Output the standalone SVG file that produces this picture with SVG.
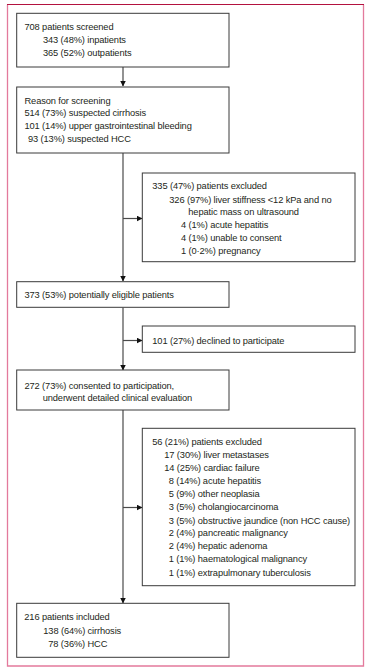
<svg xmlns="http://www.w3.org/2000/svg" width="369" height="672" viewBox="0 0 369 672">
<defs>
<style>
.box{fill:#fff;stroke:#3a3a3a;stroke-width:1}
.t{font-family:"Liberation Sans",Arial,sans-serif;font-size:9.3px;letter-spacing:-0.12px;fill:#231f20}
.c{stroke:#4a4a4a;stroke-width:1.2;fill:none}
</style>
<marker id="ah" markerWidth="6" markerHeight="6" refX="5.5" refY="3" orient="auto" markerUnits="userSpaceOnUse">
<path d="M0,0 L6,3 L0,6 Z" fill="#111"/>
</marker>
</defs>
<rect x="0" y="0" width="369" height="672" fill="#fff"/>
<g id="frame">
<path d="M7.5,4.5 V666 H363.5 V4.5" fill="none" stroke="#e37a9c" stroke-width="1.3"/>
<path d="M7,4.5 H364" fill="none" stroke="#b3123f" stroke-width="1.2"/>
</g>
<g id="connectors">
<path class="c" d="M123,67 V86" marker-end="url(#ah)"/>
<path class="c" d="M123,153 V281" marker-end="url(#ah)"/>
<path class="c" d="M123,218.5 H142" marker-end="url(#ah)"/>
<path class="c" d="M123,307.5 V370" marker-end="url(#ah)"/>
<path class="c" d="M123,340.5 H142" marker-end="url(#ah)"/>
<path class="c" d="M123,410 V603" marker-end="url(#ah)"/>
<path class="c" d="M123,507.5 H142" marker-end="url(#ah)"/>
</g>
<g id="screened">
<rect class="box" x="16.7" y="13.3" width="212.3" height="53.7"/>
<text class="t" x="24.5" y="30">708 patients screened</text>
<text class="t" x="43" y="42.7">343 (48%) inpatients</text>
<text class="t" x="43" y="55.7">365 (52%) outpatients</text>
</g>
<g id="reason">
<rect class="box" x="16.7" y="87" width="212.3" height="66"/>
<text class="t" x="24.5" y="103.5">Reason for screening</text>
<text class="t" x="24.5" y="116.2">514 (73%) suspected cirrhosis</text>
<text class="t" x="24.5" y="129.2">101 (14%) upper gastrointestinal bleeding</text>
<text class="t" x="28" y="141.8">93 (13%) suspected HCC</text>
</g>
<g id="excluded1">
<rect class="box" x="142.3" y="173" width="212.7" height="88.7"/>
<text class="t" x="152.3" y="189.2">335 (47%) patients excluded</text>
<text class="t" x="169.3" y="202.5">326 (97%) liver stiffness &lt;12 kPa and no</text>
<text class="t" x="188.3" y="215.2">hepatic mass on ultrasound</text>
<text class="t" x="181" y="228.2">4 (1%) acute hepatitis</text>
<text class="t" x="181" y="241.2">4 (1%) unable to consent</text>
<text class="t" x="181" y="253.8">1 (0·2%) pregnancy</text>
</g>
<g id="eligible">
<rect class="box" x="16.7" y="281.7" width="212.3" height="25.6"/>
<text class="t" x="24.5" y="297.5">373 (53%) potentially eligible patients</text>
</g>
<g id="declined">
<rect class="box" x="142.3" y="326" width="212.7" height="26.3"/>
<text class="t" x="152.3" y="344.2">101 (27%) declined to participate</text>
</g>
<g id="consented">
<rect class="box" x="16.7" y="370" width="212.3" height="40"/>
<text class="t" x="24.5" y="388.5">272 (73%) consented to participation,</text>
<text class="t" x="42.7" y="400.8">underwent detailed clinical evaluation</text>
</g>
<g id="excluded2">
<rect class="box" x="142.3" y="428.3" width="212.7" height="157.4"/>
<text class="t" x="152.3" y="445.2">56 (21%) patients excluded</text>
<text class="t" x="164.3" y="457.8">17 (30%) liver metastases</text>
<text class="t" x="164.3" y="470.8">14 (25%) cardiac failure</text>
<text class="t" x="168.7" y="483.8">8 (14%) acute hepatitis</text>
<text class="t" x="168.7" y="496.8">5 (9%) other neoplasia</text>
<text class="t" x="168.7" y="510.2">3 (5%) cholangiocarcinoma</text>
<text class="t" x="168.7" y="523.5">3 (5%) obstructive jaundice (non HCC cause)</text>
<text class="t" x="168.7" y="536.2">2 (4%) pancreatic malignancy</text>
<text class="t" x="168.7" y="549.2">2 (4%) hepatic adenoma</text>
<text class="t" x="168.7" y="562.2">1 (1%) haematological malignancy</text>
<text class="t" x="168.7" y="575.5">1 (1%) extrapulmonary tuberculosis</text>
</g>
<g id="included">
<rect class="box" x="16.7" y="603.3" width="212.3" height="54"/>
<text class="t" x="24.3" y="620.2">216 patients included</text>
<text class="t" x="43.3" y="634.2">138 (64%) cirrhosis</text>
<text class="t" x="48.3" y="646.8">78 (36%) HCC</text>
</g>
</svg>
